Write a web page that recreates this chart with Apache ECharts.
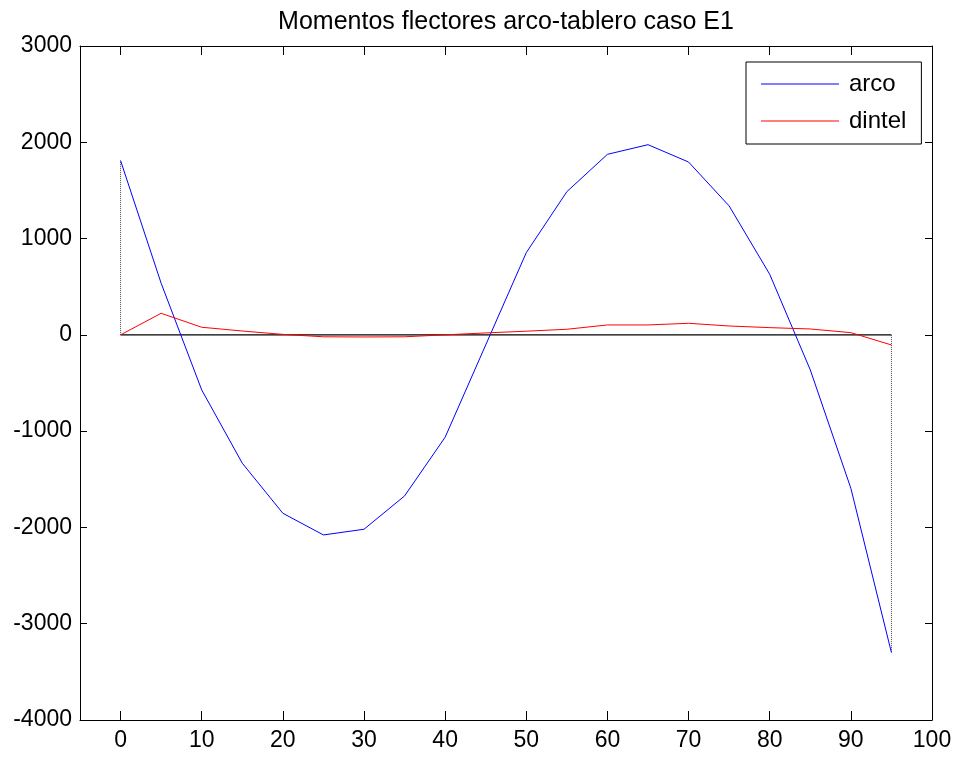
<!DOCTYPE html>
<html>
<head>
<meta charset="utf-8">
<title>Momentos flectores arco-tablero caso E1</title>
<script src="https://cdn.jsdelivr.net/npm/echarts@6/dist/echarts.min.js"></script>
<style>
  html, body { margin: 0; padding: 0; background: #fff; }
  #chart { width: 959px; height: 757px; }
</style>
</head>
<body>
<div id="chart"></div>
<script>
// Abscissa of each section along the span
const sections = [0, 5, 10, 15, 20, 25, 30, 35, 40, 45, 50, 55, 60, 65, 70, 75, 80, 85, 90, 95];
// Bending moments in the arch
const arco = [1810, 536, -572, -1333, -1853, -2078, -2019, -1673, -1063, -105, 854, 1487, 1875, 1975, 1795, 1339, 629, -364, -1593, -3300];
// Bending moments in the deck
const dintel = [0, 224, 79, 40, 5, -20, -22, -20, 0, 20, 38, 58, 103, 103, 120, 92, 75, 61, 23, -105];
// Axis tick values
const xTicks = [0, 10, 20, 30, 40, 50, 60, 70, 80, 90, 100];
const yTicks = [-4000, -3000, -2000, -1000, 0, 1000, 2000, 3000];

const FONT = 'Liberation Sans, Arial, sans-serif';
const BLUE = '#0000ff';
const RED = '#ff0000';
const first = sections[0];
const last = sections[sections.length - 1];

const pair = (xs, ys) => xs.map((x, i) => [x, ys[i]]);

const xBase = {
  type: 'value',
  min: -5,
  max: 100,
  splitLine: { show: false },
  axisLine: { show: true, onZero: false, lineStyle: { color: '#000', width: 1 } },
  axisTick: { show: true, inside: true, length: 9, customValues: xTicks, lineStyle: { color: '#000' } }
};
const yBase = {
  type: 'value',
  min: yTicks[0],
  max: yTicks[yTicks.length - 1],
  interval: 1000,
  splitLine: { show: false },
  axisLine: { show: true, onZero: false, lineStyle: { color: '#000', width: 1 } },
  axisTick: { show: true, inside: true, length: 7, lineStyle: { color: '#000' } }
};

const chart = echarts.init(document.getElementById('chart'), null, { renderer: 'canvas' });
chart.setOption({
  animation: false,
  backgroundColor: '#fff',
  title: {
    text: 'Momentos flectores arco-tablero caso E1',
    left: 501,
    textAlign: 'center',
    top: 5,
    textStyle: { fontFamily: FONT, fontSize: 25, fontWeight: 'normal', color: '#000' }
  },
  grid: { left: 80, right: 27, top: 46, bottom: 37 },
  legend: {
    data: [
      { name: 'arco', itemStyle: { color: BLUE } },
      { name: 'dintel', itemStyle: { color: RED } }
    ],
    orient: 'vertical',
    left: 746,
    top: 62,
    padding: [10, 15, 11, 15],
    itemGap: 13,
    itemWidth: 78,
    itemHeight: 1,
    icon: 'rect',
    backgroundColor: '#fff',
    borderColor: '#000',
    borderWidth: 1,
    textStyle: { fontFamily: FONT, fontSize: 24, color: '#000', padding: [0, 0, 0, 5] }
  },
  xAxis: [
    Object.assign({}, xBase, {
      position: 'bottom',
      axisLabel: { show: true, customValues: xTicks, margin: 9, fontFamily: FONT, fontSize: 23, color: '#000' }
    }),
    Object.assign({}, xBase, { position: 'top', axisLabel: { show: false } })
  ],
  yAxis: [
    Object.assign({}, yBase, {
      position: 'left',
      axisLabel: {
        show: true, margin: 8, fontFamily: FONT, fontSize: 23, color: '#000',
        formatter: (v) => String(v)
      }
    }),
    Object.assign({}, yBase, { position: 'right', axisLabel: { show: false } })
  ],
  series: [
    {
      name: 'zero',
      type: 'line',
      symbol: 'none',
      silent: true,
      data: [[first, 0], [last, 0]],
      lineStyle: { color: '#000', width: 1.2 },
      z: 1
    },
    {
      name: 'cierre-inicio',
      type: 'line',
      symbol: 'none',
      silent: true,
      data: [[first, 0], [first, arco[0]]],
      lineStyle: { color: '#444', width: 1, type: 'dotted' },
      z: 1
    },
    {
      name: 'cierre-fin',
      type: 'line',
      symbol: 'none',
      silent: true,
      data: [[last, 0], [last, arco[arco.length - 1]]],
      lineStyle: { color: '#444', width: 1, type: 'dotted' },
      z: 1
    },
    {
      name: 'arco',
      type: 'line',
      symbol: 'none',
      data: pair(sections, arco),
      itemStyle: { color: BLUE },
      lineStyle: { color: BLUE, width: 1 },
      z: 3
    },
    {
      name: 'dintel',
      type: 'line',
      symbol: 'none',
      data: pair(sections, dintel),
      itemStyle: { color: RED },
      lineStyle: { color: RED, width: 1 },
      z: 3
    }
  ]
});
</script>
</body>
</html>
